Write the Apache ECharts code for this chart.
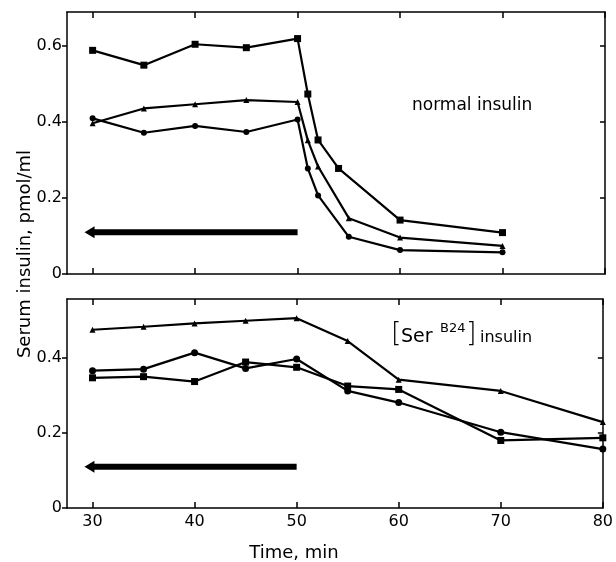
<!DOCTYPE html>
<html>
<head>
<meta charset="utf-8">
<script src="https://cdn.jsdelivr.net/npm/echarts@6/dist/echarts.min.js"></script>
<style>
  html, body { margin: 0; padding: 0; background: #fff; }
  #chart { width: 616px; height: 562px; }
</style>
</head>
<body>
<div id="chart"></div>
<script>
// Serum insulin (pmol/ml) vs time (min); infusion ran from 30 to 50 min.

// Upper panel: normal insulin
const normalSquareTime = [30, 35, 40, 45, 50, 51, 52, 54, 60, 70];
const normalSquare     = [0.589, 0.55, 0.605, 0.596, 0.62, 0.474, 0.353, 0.278, 0.142, 0.109];
const normalTime       = [30, 35, 40, 45, 50, 51, 52, 55, 60, 70];
const normalTriangle   = [0.397, 0.436, 0.447, 0.458, 0.453, 0.352, 0.283, 0.147, 0.096, 0.074];
const normalCircle     = [0.41, 0.372, 0.39, 0.374, 0.407, 0.278, 0.207, 0.098, 0.063, 0.057];

// Lower panel: [SerB24] insulin
const serTime     = [30, 35, 40, 45, 50, 55, 60, 70, 80];
const serTriangle = [0.475, 0.483, 0.492, 0.499, 0.506, 0.445, 0.342, 0.312, 0.229];
const serCircle   = [0.366, 0.37, 0.414, 0.372, 0.397, 0.312, 0.281, 0.202, 0.157];
const serSquare   = [0.347, 0.35, 0.337, 0.389, 0.375, 0.325, 0.316, 0.18, 0.187];

// Infusion period arrow: shaft from 50 min back to the head, which points at 30 min
const infusionEnd = 50;
const arrowHeadAt = 29.7;
const shaftStart = 30.1;
const arrowLevel = 0.11;

// Axis ticks
const timeTicks = [30, 40, 50, 60, 70, 80];
const normalTicks = [0, 0.2, 0.4, 0.6];
const serTicks = [0, 0.2, 0.4];

const FONT = 'DejaVu Sans';
const INK = '#000';

function pairs(xs, ys) { return xs.map((x, i) => [x, ys[i]]); }

function xAxis(grid, position, labels) {
  return {
    type: 'value', gridIndex: grid, position: position, min: 27.5, max: 80,
    axisLine: { show: true, onZero: false, lineStyle: { color: INK, width: 1.5 } },
    axisTick: { show: true, inside: true, length: 6, customValues: timeTicks, lineStyle: { color: INK, width: 1.5 } },
    axisLabel: { show: labels, customValues: timeTicks, margin: 6, color: INK, fontFamily: FONT, fontSize: 16 },
    splitLine: { show: false }
  };
}

function yAxis(grid, position, max, ticks, labels) {
  const left = position === 'left';
  return {
    type: 'value', gridIndex: grid, position: position, min: 0, max: max,
    axisLine: { show: true, onZero: false, lineStyle: { color: INK, width: 1.5 } },
    axisTick: { show: true, inside: !left, length: 5, customValues: left ? ticks : ticks.filter(v => v > 0),
                lineStyle: { color: INK, width: 1.5 } },
    axisLabel: { show: labels, customValues: ticks, margin: 5, color: INK, fontFamily: FONT, fontSize: 16 },
    splitLine: { show: false }
  };
}

function curve(xi, yi, data, symbol, size) {
  return {
    type: 'line', xAxisIndex: xi, yAxisIndex: yi, data: data,
    symbol: symbol, symbolSize: size, clip: false, silent: true,
    lineStyle: { color: INK, width: 2.2 }, itemStyle: { color: INK },
    emphasis: { disabled: true }, animation: false, z: 3
  };
}

function arrowShaft(xi, yi) {
  return {
    type: 'line', xAxisIndex: xi, yAxisIndex: yi, symbol: 'none', silent: true, animation: false,
    data: [[shaftStart, arrowLevel], [infusionEnd, arrowLevel]],
    lineStyle: { color: INK, width: 6, cap: 'butt' }, emphasis: { disabled: true }, z: 2
  };
}

function arrowHead(xi, yi) {
  return {
    type: 'scatter', xAxisIndex: xi, yAxisIndex: yi, silent: true, animation: false,
    data: [[arrowHeadAt, arrowLevel]],
    symbol: 'triangle', symbolSize: [12, 10], symbolRotate: 90,
    itemStyle: { color: INK, opacity: 1 }, emphasis: { disabled: true }, z: 2
  };
}

const chart = echarts.init(document.getElementById('chart'), null, { renderer: 'canvas' });

chart.setOption({
  animation: false,
  backgroundColor: '#fff',
  grid: [
    { left: 67, top: 12, width: 538, height: 262 },
    { left: 67, top: 299, width: 538, height: 209 }
  ],
  xAxis: [
    xAxis(0, 'bottom', false), xAxis(0, 'top', false),
    xAxis(1, 'bottom', true), xAxis(1, 'top', false)
  ],
  yAxis: [
    yAxis(0, 'left', 0.69, normalTicks, true), yAxis(0, 'right', 0.69, normalTicks, false),
    yAxis(1, 'left', 0.557, serTicks, true), yAxis(1, 'right', 0.557, serTicks, false)
  ],
  series: [
    curve(0, 0, pairs(normalSquareTime, normalSquare), 'rect', 7),
    curve(0, 0, pairs(normalTime, normalTriangle), 'triangle', 6),
    curve(0, 0, pairs(normalTime, normalCircle), 'circle', 6),
    arrowShaft(0, 0), arrowHead(0, 0),
    curve(2, 2, pairs(serTime, serTriangle), 'triangle', 6),
    curve(2, 2, pairs(serTime, serCircle), 'circle', 7),
    curve(2, 2, pairs(serTime, serSquare), 'rect', 7),
    arrowShaft(2, 2), arrowHead(2, 2)
  ],
  graphic: [
    {
      type: 'text', x: 25, y: 254, rotation: Math.PI / 2, silent: true,
      style: { text: 'Serum insulin, pmol/ml', fill: INK, font: '18px "DejaVu Sans"',
               align: 'center', verticalAlign: 'middle' }
    },
    {
      type: 'text', x: 294, y: 553, silent: true,
      style: { text: 'Time, min', fill: INK, font: '18px "DejaVu Sans"',
               align: 'center', verticalAlign: 'middle' }
    },
    {
      type: 'text', x: 412, y: 106, silent: true,
      style: { text: 'normal insulin', fill: INK, font: '17px "DejaVu Sans"',
               align: 'left', verticalAlign: 'middle' }
    },
    // [SerB24] insulin, set piece by piece
    {
      type: 'text', x: 391, y: 334, silent: true,
      style: { text: '[', fill: INK, font: '200 27px "DejaVu Sans"', align: 'left', verticalAlign: 'middle' }
    },
    {
      type: 'text', x: 401, y: 337, silent: true,
      style: { text: 'Ser', fill: INK, font: '19px "DejaVu Sans"', align: 'left', verticalAlign: 'middle' }
    },
    {
      type: 'text', x: 440, y: 329, silent: true,
      style: { text: 'B24', fill: INK, font: '13px "DejaVu Sans"', align: 'left', verticalAlign: 'middle' }
    },
    {
      type: 'text', x: 466, y: 334, silent: true,
      style: { text: ']', fill: INK, font: '200 27px "DejaVu Sans"', align: 'left', verticalAlign: 'middle' }
    },
    {
      type: 'text', x: 480, y: 338, silent: true,
      style: { text: 'insulin', fill: INK, font: '16px "DejaVu Sans"', align: 'left', verticalAlign: 'middle' }
    }
  ]
});
</script>
</body>
</html>
